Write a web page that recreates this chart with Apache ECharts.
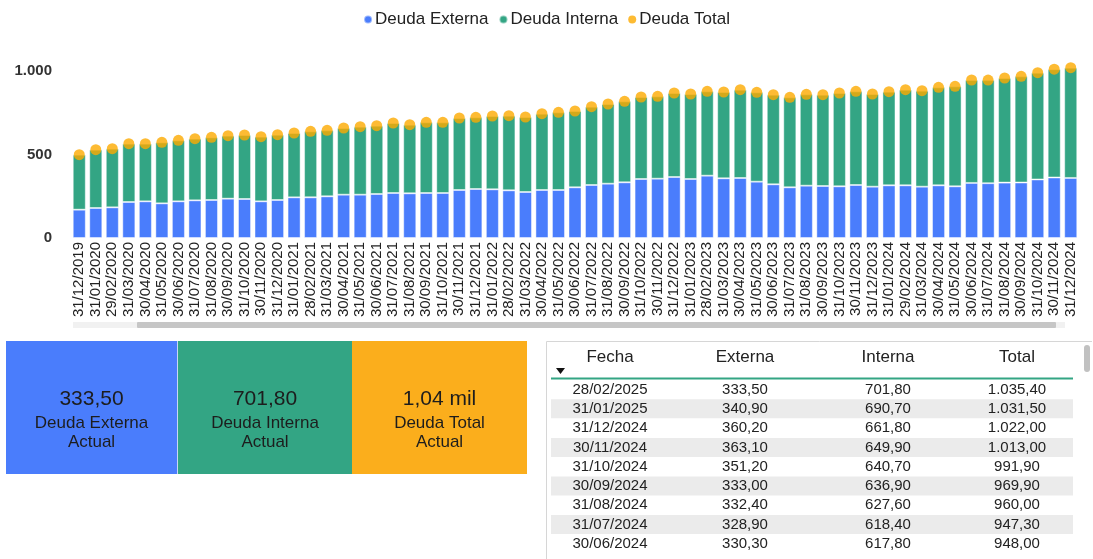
<!DOCTYPE html>
<html>
<head>
<meta charset="utf-8">
<script src="https://cdn.jsdelivr.net/npm/echarts@6/dist/echarts.min.js"></script>
<style>
  html, body { margin: 0; padding: 0; background: #fff; }
  #main { width: 1093px; height: 559px; }
</style>
</head>
<body>
<div id="main"></div>
<script>
// datos del grafico (mensual)
const fechas = [
  '31/12/2019',
  '31/01/2020', '29/02/2020', '31/03/2020', '30/04/2020', '31/05/2020', '30/06/2020',
  '31/07/2020', '31/08/2020', '30/09/2020', '31/10/2020', '30/11/2020', '31/12/2020',
  '31/01/2021', '28/02/2021', '31/03/2021', '30/04/2021', '31/05/2021', '30/06/2021',
  '31/07/2021', '31/08/2021', '30/09/2021', '31/10/2021', '30/11/2021', '31/12/2021',
  '31/01/2022', '28/02/2022', '31/03/2022', '30/04/2022', '31/05/2022', '30/06/2022',
  '31/07/2022', '31/08/2022', '30/09/2022', '31/10/2022', '30/11/2022', '31/12/2022',
  '31/01/2023', '28/02/2023', '31/03/2023', '30/04/2023', '31/05/2023', '30/06/2023',
  '31/07/2023', '31/08/2023', '30/09/2023', '31/10/2023', '30/11/2023', '31/12/2023',
  '31/01/2024', '29/02/2024', '31/03/2024', '30/04/2024', '31/05/2024', '30/06/2024',
  '31/07/2024', '31/08/2024', '30/09/2024', '31/10/2024', '30/11/2024', '31/12/2024'
];

const deudaExterna = [
  170,
  180, 184, 216, 220, 208, 220, 226, 228, 236, 234, 220, 228,
  244, 244, 250, 260, 260, 264, 270, 268, 270, 270, 288, 294,
  292, 286, 276, 288, 288, 304, 318, 326, 334, 354, 356, 366,
  354, 374, 358, 360, 338, 322, 304, 314, 312, 310, 318, 308,
  316, 316, 308, 316, 310, 330.3, 328.9, 332.4, 333.0, 351.2, 363.1, 360.2
];

const deudaInterna = [
  330,
  350, 352, 350, 346, 366, 366, 370, 376, 378, 384, 388, 392,
  386, 396, 396, 400, 408, 410, 420, 412, 424, 424, 432, 430,
  440, 448, 450, 458, 466, 458, 470, 478, 486, 492, 494, 504,
  510, 506, 518, 530, 536, 538, 540, 548, 548, 560, 562, 556,
  562, 574, 576, 588, 600, 617.8, 618.4, 627.6, 636.9, 640.7, 649.9, 661.8
];

const deudaTotal = [
  500,
  530, 536, 566, 566, 574, 586, 596, 604, 614, 618, 608, 620,
  630, 640, 646, 660, 668, 674, 690, 680, 694, 694, 720, 724,
  732, 734, 726, 746, 754, 762, 788, 804, 820, 846, 850, 870,
  864, 880, 876, 890, 874, 860, 844, 862, 860, 870, 880, 864,
  878, 890, 884, 904, 910, 948.0, 947.3, 960.0, 969.9, 991.9, 1013.0, 1022.0
];

// tarjetas
const tarjetaValores = ['333,50', '701,80', '1,04 mil'];
const tarjetaTitulos = ['Deuda Externa\nActual', 'Deuda Interna\nActual', 'Deuda Total\nActual'];

// tabla
const tablaEncabezados = ['Fecha', 'Externa', 'Interna', 'Total'];
const tablaFechas = ['28/02/2025', '31/01/2025', '31/12/2024', '30/11/2024', '31/10/2024',
  '30/09/2024', '31/08/2024', '31/07/2024', '30/06/2024'];
const tablaExterna = ['333,50', '340,90', '360,20', '363,10', '351,20', '333,00', '332,40', '328,90', '330,30'];
const tablaInterna = ['701,80', '690,70', '661,80', '649,90', '640,70', '636,90', '627,60', '618,40', '617,80'];
const tablaTotal = ['1.035,40', '1.031,50', '1.022,00', '1.013,00', '991,90', '969,90', '960,00', '947,30', '948,00'];

const AZUL = '#4a7dfc';
const VERDE = '#33a584';
const NARANJA = '#fbae1c';
const PUNTO = '#fcaa00';
const FUENTE = '"Liberation Sans", Arial, sans-serif';

function miles(v) {
  return String(v).replace(/\B(?=(\d{3})+(?!\d))/g, '.');
}

// elementos graficos: tarjetas y tabla
let graficos = [];

// barra de desplazamiento bajo el eje
graficos.push({ type: 'rect', shape: { x: 73, y: 322, width: 992, height: 6 }, style: { fill: '#f1f1f1' }, silent: true });
graficos.push({ type: 'rect', shape: { x: 137, y: 322, width: 919, height: 6, r: 1 }, style: { fill: '#c6c6c6' }, silent: true });

const tarjetaX = [6, 178, 352];
const tarjetaW = [171, 174, 175];
const tarjetaColor = [AZUL, VERDE, NARANJA];
tarjetaValores.forEach((v, i) => {
  graficos.push({
    type: 'rect',
    shape: { x: tarjetaX[i], y: 341, width: tarjetaW[i], height: 133 },
    style: { fill: tarjetaColor[i] },
    silent: true
  });
  const cx = tarjetaX[i] + tarjetaW[i] / 2;
  graficos.push({
    type: 'text', x: cx, y: 399,
    style: { text: v, font: '21px ' + FUENTE, fill: '#1d1d1d', align: 'center', verticalAlign: 'middle' },
    silent: true
  });
  graficos.push({
    type: 'text', x: cx, y: 414,
    style: { text: tarjetaTitulos[i], font: '17px ' + FUENTE, fill: '#1d1d1d', align: 'center', verticalAlign: 'top', lineHeight: 19 },
    silent: true
  });
});
graficos.push({ type: 'line', shape: { x1: 177.5, y1: 341, x2: 177.5, y2: 474 }, style: { stroke: '#c9d6f5', lineWidth: 1 }, silent: true });

// tabla
graficos.push({ type: 'polyline', shape: { points: [[546.5, 559], [546.5, 341.5], [1092, 341.5]] }, style: { stroke: '#d6d6d6', fill: null, lineWidth: 1 }, silent: true });
graficos.push({ type: 'rect', shape: { x: 1084, y: 345, width: 6, height: 27, r: 3 }, style: { fill: '#c1c1c1' }, silent: true });
const colX = [610, 745, 888, 1017];
tablaEncabezados.forEach((h, j) => {
  graficos.push({
    type: 'text', x: colX[j], y: 357,
    style: { text: h, font: '17px ' + FUENTE, fill: '#222', align: 'center', verticalAlign: 'middle' },
    silent: true
  });
});
graficos.push({ type: 'polygon', shape: { points: [[556, 368], [565, 368], [560.5, 374]] }, style: { fill: '#111' }, silent: true });
graficos.push({ type: 'line', shape: { x1: 551, y1: 378.5, x2: 1073, y2: 378.5 }, style: { stroke: VERDE, lineWidth: 2 }, silent: true });

const filaY0 = 389.5;
const filaH = 19.3;
tablaFechas.forEach((f, r) => {
  const y = filaY0 + r * filaH;
  if (r % 2 === 1) {
    graficos.push({ type: 'rect', shape: { x: 551, y: y - 9.5, width: 522, height: 19 }, style: { fill: '#ebebeb' }, silent: true });
  }
  [f, tablaExterna[r], tablaInterna[r], tablaTotal[r]].forEach((t, j) => {
    graficos.push({
      type: 'text', x: colX[j], y: y,
      style: { text: t, font: '15px ' + FUENTE, fill: '#222', align: 'center', verticalAlign: 'middle' },
      silent: true
    });
  });
});

const chart = echarts.init(document.getElementById('main'));

chart.setOption({
  animation: false,
  textStyle: { fontFamily: FUENTE },
  legend: {
    top: 6,
    left: 'center',
    icon: 'circle',
    itemWidth: 8,
    itemHeight: 8,
    itemGap: 10,
    textStyle: { fontSize: 17, color: '#222', padding: [0, 0, 0, -2] },
    data: ['Deuda Externa', 'Deuda Interna', 'Deuda Total']
  },
  grid: { left: 71, top: 38, width: 1008, height: 200 },
  xAxis: {
    type: 'category',
    data: fechas,
    axisLine: { show: false },
    axisTick: { show: false },
    axisLabel: { rotate: 90, interval: 0, fontSize: 15, color: '#222', margin: 4 }
  },
  yAxis: {
    type: 'value',
    min: 0,
    max: 1200,
    interval: 500,
    splitLine: { show: false },
    axisLabel: {
      showMaxLabel: false,
      fontSize: 15,
      fontWeight: 'bold',
      color: '#333',
      margin: 19,
      formatter: miles
    }
  },
  series: [
    {
      name: 'Deuda Externa',
      type: 'bar',
      stack: 'deuda',
      data: deudaExterna,
      barCategoryGap: '21%',
      itemStyle: { color: AZUL, borderColor: 'rgba(255,255,255,0.45)', borderWidth: 1 }
    },
    {
      name: 'Deuda Interna',
      type: 'bar',
      stack: 'deuda',
      data: deudaInterna,
      itemStyle: { color: VERDE, borderColor: 'rgba(255,255,255,0.45)', borderWidth: 1 }
    },
    {
      name: 'Deuda Total',
      type: 'scatter',
      data: deudaTotal,
      symbol: 'circle',
      symbolSize: 11,
      z: 5,
      itemStyle: { color: PUNTO }
    }
  ],
  graphic: graficos
});
</script>
</body>
</html>
